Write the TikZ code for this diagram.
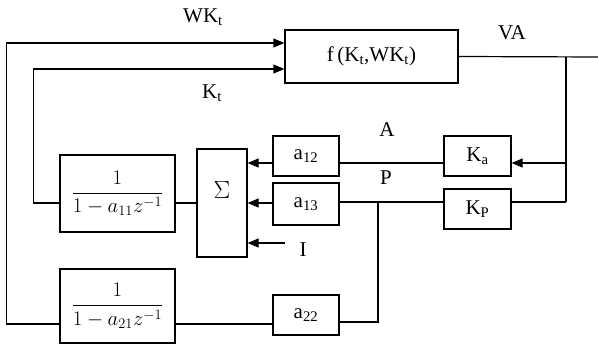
\documentclass[tikz,border=0pt]{standalone}
\usepackage{fontspec}
\setmainfont{Liberation Serif}
\usepackage{amsmath}
\usetikzlibrary{arrows.meta}

\begin{document}
\begin{tikzpicture}[x=1pt, y=-1pt,
    blk/.style={draw, line width=1.2pt, inner sep=0pt, font=\fontsize{21}{24}\selectfont},
    lbl/.style={font=\fontsize{21}{24}\selectfont, inner sep=0pt},
    sig/.style={line width=1.2pt},
    tip/.style={sig, -{Triangle[length=11pt,width=9pt]}}]
  \useasboundingbox (0,0) rectangle (598,344);

  % blocks
  \node[blk, minimum width=173pt, minimum height=53pt] (f) at (371.5,56.5) {f\,(K\textsubscript{t},WK\textsubscript{t})};
  \node[blk, minimum width=67pt, minimum height=40pt] (ka) at (477.5,156) {K\textsubscript{a}};
  \node[blk, minimum width=67pt, minimum height=40pt] (kp) at (477.5,209) {K\textsubscript{P}};
  \node[blk, minimum width=66pt, minimum height=40pt] (a12) at (306,156) {a\textsubscript{12}};
  \node[blk, minimum width=66pt, minimum height=42pt] (a13) at (306,204) {a\textsubscript{13}};
  \node[blk, minimum width=66pt, minimum height=40pt] (a22) at (306,315) {a\textsubscript{22}};
  \node[blk, minimum width=50pt, minimum height=108pt] (sum) at (222,203) {};
  \node[lbl, font=\fontsize{28}{32}\selectfont] (sigma) at ([yshift=13pt]sum.center) {$\Sigma$};
  \node[blk, minimum width=115pt, minimum height=77pt] (fil1) at (117.5,193.5) {$\dfrac{1}{1-a_{11}z^{-1}}$};
  \node[blk, minimum width=115pt, minimum height=74pt] (fil2) at (117.5,306) {$\dfrac{1}{1-a_{21}z^{-1}}$};

  % signal labels
  \node[lbl] (wk) at (203,17) {WK\textsubscript{t}};
  \node[lbl] (k) at (212,93) {K\textsubscript{t}};
  \node[lbl] (va) at (512,33) {VA};
  \node[lbl] (alab) at (387,130) {A};
  \node[lbl] (plab) at (386,178) {P};
  \node[lbl] (ilab) at (303,250) {I};

  \coordinate (out) at (598,57);
  \coordinate (vtop) at (566,57);
  \coordinate (vbot) at (566,202);
  \coordinate (pj) at (378,202);
  \coordinate (iin) at (285,243);

  % feedback paths
  \draw[tip] ([yshift=-18pt]fil2.west) -- ++(-53,0) |- ([yshift=13.5pt]f.west);
  \draw[tip] ([yshift=-9.5pt]fil1.west) -- ++(-26,0) |- ([yshift=-12.5pt]f.west);
  \draw[sig] (f.east) -- (out);
  \draw[sig] (vtop) -- (vbot);
  \draw[tip] (vtop |- 0,163) -- ([yshift=-7pt]ka.east);
  \draw[sig] ([yshift=-7pt]ka.west) -- ([yshift=-7pt]a12.east);
  \draw[tip] ([yshift=-7pt]a12.west) -- (sum.east |- 0,163);
  \draw[sig] ([yshift=7pt]kp.east) -- (vbot);
  \draw[sig] ([yshift=7pt]kp.west) -- ([yshift=2pt]a13.east);
  \draw[tip] (a13.west |- 0,203) -- (sum.east |- 0,203);
  \draw[sig] (pj) |- ([yshift=-7pt]a22.east);
  \draw[sig] ([yshift=-9pt]a22.west) -- ([yshift=-18pt]fil2.east);
  \draw[sig] ([yshift=-9.5pt]fil1.east) -- (sum.west |- 0,203);
  \draw[tip] (iin) -- (sum.east |- iin);
\end{tikzpicture}
\end{document}
